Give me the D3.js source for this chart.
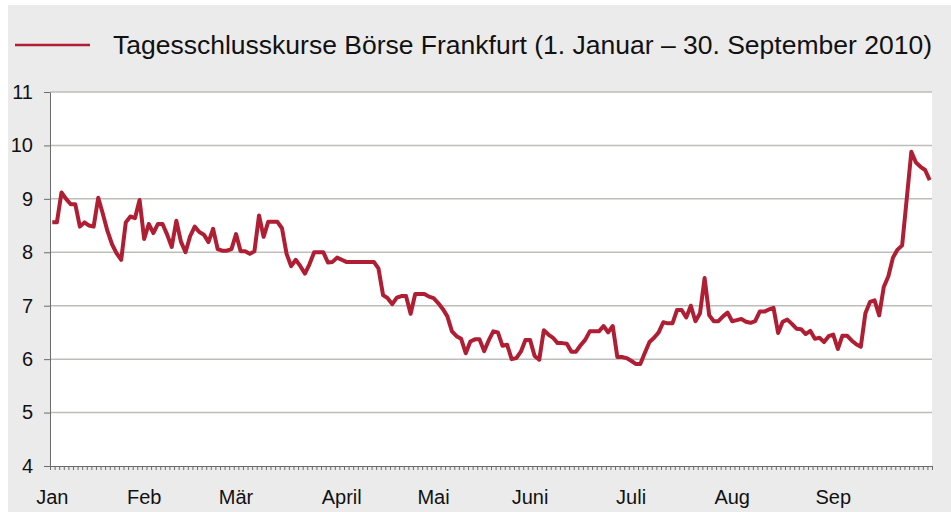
<!DOCTYPE html>
<html>
<head>
<meta charset="utf-8">
<script src="https://cdn.jsdelivr.net/npm/d3@7"></script>
<style>
  body { margin: 0; background: #fff; }
  svg { display: block; font-family: "Liberation Sans", Arial, sans-serif; }
</style>
</head>
<body>
<div id="chart"></div>
<script>
// month labels and trading days per month (Jan - Sep 2010)
const months = ['Jan', 'Feb', 'Mär', 'April', 'Mai', 'Juni', 'Juli', 'Aug', 'Sep'];
const tradingDays = [20, 20, 23, 20, 21, 22, 22, 22, 22];
const yTicks = [4, 5, 6, 7, 8, 9, 10, 11];
const legendLabel = 'Tagesschlusskurse Börse Frankfurt (1. Januar – 30. September 2010)';

// daily closing prices
const kurse = [
  8.56, 8.56, 9.12, 9.0, 8.9, 8.9, 8.48, 8.56, 8.5, 8.48,
  9.02, 8.72, 8.4, 8.15, 7.98, 7.86, 8.56, 8.67, 8.64, 8.98,
  8.25, 8.53, 8.36, 8.53, 8.53, 8.33, 8.1, 8.59, 8.2, 8.0,
  8.3, 8.48, 8.38, 8.33, 8.19, 8.44, 8.06, 8.03, 8.03, 8.06,
  8.34, 8.02, 8.02, 7.97, 8.02, 8.69, 8.29, 8.57, 8.57, 8.57,
  8.45, 7.97, 7.74, 7.86, 7.74, 7.6, 7.78, 8.0, 8.0, 8.0,
  7.81, 7.82, 7.9, 7.86, 7.82, 7.82, 7.82, 7.82, 7.82, 7.82,
  7.82, 7.7, 7.2, 7.14, 7.03, 7.15, 7.18, 7.18, 6.85, 7.22,
  7.22, 7.22, 7.17, 7.14, 7.05, 6.94, 6.8, 6.52, 6.43, 6.38,
  6.11, 6.33, 6.37, 6.37, 6.15, 6.35, 6.52, 6.5, 6.25, 6.27,
  6.0, 6.02, 6.14, 6.36, 6.36, 6.06, 5.99, 6.54, 6.46, 6.4,
  6.3, 6.3, 6.29, 6.14, 6.14, 6.26, 6.36, 6.52, 6.52, 6.52,
  6.62, 6.5, 6.62, 6.04, 6.04, 6.02, 5.97, 5.91, 5.91, 6.12,
  6.32, 6.4, 6.5, 6.69, 6.67, 6.67, 6.92, 6.92, 6.78, 7.0,
  6.71, 6.86, 7.52, 6.82, 6.71, 6.71, 6.8, 6.87, 6.71, 6.73,
  6.75, 6.7, 6.68, 6.71, 6.89, 6.89, 6.93, 6.96, 6.49, 6.7,
  6.74, 6.66, 6.57, 6.56, 6.47, 6.53, 6.38, 6.4, 6.32, 6.43,
  6.46, 6.19, 6.44, 6.44, 6.35, 6.28, 6.23, 6.86, 7.07, 7.1,
  6.82, 7.35, 7.55, 7.9, 8.05, 8.13, 9.0, 9.88, 9.68, 9.6,
  9.54, 9.35
];

const width = 951, height = 512;
const margin = {top: 92, right: 19, bottom: 46, left: 50};
const plotW = width - margin.left - margin.right;
const plotH = height - margin.top - margin.bottom;

let svg = d3.select('#chart').append('svg')
  .attr('width', width)
  .attr('height', height);

//grey panel + white plot area
svg.append('rect')
  .attr('x', 8).attr('y', 5)
  .attr('width', width - 8).attr('height', height - 5)
  .attr('fill', '#ebebeb');
svg.append('rect')
  .attr('x', margin.left).attr('y', margin.top)
  .attr('width', plotW).attr('height', plotH)
  .attr('fill', '#fff');

//scales
const xScale = d3.scaleLinear().domain([0, kurse.length]).range([margin.left, margin.left + plotW]);
const yScale = d3.scaleLinear().domain([4, 11]).range([margin.top + plotH, margin.top]);

//gridlines
svg.append('g')
  .selectAll('line')
  .data(yTicks.filter(d => d > 4))
  .enter()
  .append('line')
  .attr('x1', margin.left)
  .attr('x2', margin.left + plotW)
  .attr('y1', d => yScale(d))
  .attr('y2', d => yScale(d))
  .attr('stroke', '#bdbdb9')
  .attr('stroke-width', 1.5);

// y axis
let yAxis = svg.append('g')
  .attr('transform', `translate(${margin.left},0)`)
  .call(d3.axisLeft(yScale).tickValues(yTicks).tickFormat(d3.format('d'))
    .tickSize(6).tickPadding(11).tickSizeOuter(0));
yAxis.select('.domain').attr('stroke', '#6b6b6b');
yAxis.selectAll('.tick line').attr('stroke', '#6b6b6b');
yAxis.selectAll('.tick text')
  .attr('font-size', 20)
  .attr('font-family', '"Liberation Sans", Arial, sans-serif')
  .attr('fill', '#111');

// x axis: one tick per trading day
let xAxis = svg.append('g')
  .attr('transform', `translate(0,${margin.top + plotH})`)
  .call(d3.axisBottom(xScale).tickValues(d3.range(kurse.length + 1)).tickSize(4).tickFormat('').tickSizeOuter(0));
xAxis.select('.domain').attr('stroke', '#6b6b6b');
xAxis.selectAll('.tick line').attr('stroke', '#6b6b6b');

//month labels at first trading day
let starts = [];
tradingDays.reduce((acc, n) => { starts.push(acc); return acc + n; }, 0);
svg.append('g')
  .selectAll('text')
  .data(months)
  .enter()
  .append('text')
  .attr('x', (d, i) => xScale(starts[i] + 0.5))
  .attr('y', 504)
  .attr('text-anchor', 'middle')
  .attr('font-size', 20)
  .attr('fill', '#111')
  .text(d => d);

//price line
const line = d3.line()
  .x((d, i) => xScale(i + 0.5))
  .y(d => yScale(d));
svg.append('path')
  .datum(kurse)
  .attr('d', line)
  .attr('fill', 'none')
  .attr('stroke', '#b01e34')
  .attr('stroke-width', 4)
  .attr('stroke-linejoin', 'round');

//legend
svg.append('line')
  .attr('x1', 15).attr('x2', 90)
  .attr('y1', 45).attr('y2', 45)
  .attr('stroke', '#b01e34')
  .attr('stroke-width', 2.5);
svg.append('text')
  .attr('x', 113)
  .attr('y', 54)
  .attr('font-size', 26.5)
  .attr('fill', '#111')
  .text(legendLabel);
</script>
</body>
</html>
